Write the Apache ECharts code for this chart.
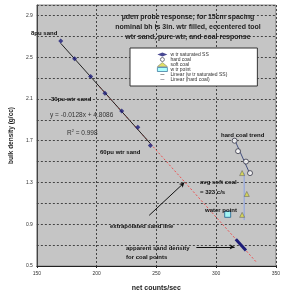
<!DOCTYPE html>
<html><head><meta charset="utf-8">
<script src="https://cdn.jsdelivr.net/npm/echarts@6/dist/echarts.min.js"></script>
<style>html,body{margin:0;padding:0;background:#fff}#c{width:283px;height:297px}</style>
</head><body><div id="c"></div>
<script>
// ---- data ----
const sandPoints = [[170, 2.655], [181.6, 2.485], [195, 2.315], [207, 2.155], [221, 1.985], [234.5, 1.83], [245, 1.655]];
const hardCoal = [[315.5, 1.70], [318.4, 1.60], [325, 1.50], [328.4, 1.39]];
const softCoal = [[321.8, 1.39], [325.7, 1.19], [321.8, 0.99]];
const waterPoint = [[309.7, 0.995]];
const sandTrend = [[170, 2.633], [245, 1.673]];
const hardCoalTrend = [[315.5, 1.71], [328.4, 1.38]];
const extrapolated = [[200.5, 2.242], [333.4, 0.541]];
const apparentSand = [[316.5, 0.757], [325, 0.648]];
const avgSoftCoal = [[323.5, 1.39], [323.5, 0.94]];
const arrowExtrap = [[244, 0.985], [273.5, 1.30]];
const arrowApparent = [[283.5, 0.683], [315.5, 0.683]];
const xTicks = {min: 150, max: 350, step: 50};
const yTicks = {min: 0.5, max: 3.0, step: 0.2, labelStep: 0.4};

const chart = echarts.init(document.getElementById('c'), null, {renderer: 'canvas'});
const F = 'Liberation Sans, Arial, sans-serif';
const navy = '#1c1c78';
const lbl = (x, y, text, opt) => Object.assign({type: 'text', left: x, top: y, z: 100,
  style: Object.assign({text, font: 'bold 6px ' + F, fill: '#111'}, opt || {})});
const lineIcon = 'path://M0,0L10,0L10,0.05Z M0,4.5L10,4.5L10,5.5L0,5.5Z M0,10L10,10L10,9.95Z';
const arrow = (pts) => ({type: 'line', data: [], silent: true, z: 6,
  markLine: {silent: true, symbol: ['none', 'arrow'], symbolSize: [4, 5], label: {show: false},
    lineStyle: {color: '#111', width: 1, type: 'solid'}, itemStyle: {color: '#111'},
    data: [[{coord: pts[0]}, {coord: pts[1]}]]}});

chart.setOption({
  animation: false,
  backgroundColor: '#fff',
  grid: {left: 23, right: 7, top: 5, bottom: 25, show: true, backgroundColor: '#c5c5c5', borderColor: '#888', borderWidth: 1},
  xAxis: {type: 'value', min: xTicks.min, max: xTicks.max, interval: xTicks.step,
    name: 'net counts/sec', nameLocation: 'middle', nameGap: 19,
    nameTextStyle: {fontFamily: F, fontSize: 7, fontWeight: 'bold', color: '#222'},
    axisLine: {show: true, lineStyle: {color: '#222', width: 1}},
    axisTick: {show: true, length: 2, lineStyle: {color: '#222'}},
    axisLabel: {fontFamily: F, fontSize: 5, color: '#333', margin: 5},
    splitLine: {show: true, lineStyle: {color: '#444', type: [2, 2], width: 1}}},
  yAxis: {type: 'value', min: yTicks.min, max: yTicks.max, interval: yTicks.step,
    name: 'bulk density (g/cc)', nameLocation: 'middle', nameGap: 19,
    nameTextStyle: {fontFamily: F, fontSize: 6.5, fontWeight: 'bold', color: '#222'},
    axisLine: {show: true, lineStyle: {color: '#444', width: 1}},
    axisTick: {show: false},
    axisLabel: {fontFamily: F, fontSize: 5, color: '#333', margin: 4,
      formatter: v => {const k = (v - yTicks.min) / yTicks.labelStep; return (Math.abs(k - Math.round(k)) < 1e-6 && v < 2.95) ? v.toFixed(1) : '';}},
    splitLine: {show: true, lineStyle: {color: '#444', type: [2, 2], width: 1}}},
  legend: {orient: 'vertical', left: 130, top: 48, padding: [4, 30, 4, 27], itemGap: 0,
    itemWidth: 10, itemHeight: 4, backgroundColor: '#fff', borderColor: '#333', borderWidth: 1,
    textStyle: {fontFamily: F, fontSize: 5, color: '#333', lineHeight: 5, padding: [0, 0, 0, -2]},
    data: [
      {name: 'w tr saturated SS', icon: 'diamond', itemStyle: {color: navy, borderWidth: 0}},
      {name: 'hard coal', icon: 'circle', itemStyle: {color: '#fff', borderColor: '#334', borderWidth: 0.8}},
      {name: 'soft coal', icon: 'triangle', itemStyle: {color: '#d8d840', borderColor: '#555', borderWidth: 0.5}},
      {name: 'w tr point', icon: 'rect', itemStyle: {color: '#9ff', borderColor: '#1c5c8c', borderWidth: 0.8}},
      {name: 'Linear (w tr saturated SS)', icon: lineIcon, itemStyle: {color: '#333', borderWidth: 0}},
      {name: 'Linear (hard coal)', icon: lineIcon, itemStyle: {color: '#556', borderWidth: 0}}
    ]},
  series: [
    {name: 'Linear (w tr saturated SS)', type: 'line', data: sandTrend, symbol: 'none', lineStyle: {color: '#222', width: 1}, z: 3},
    {name: 'extrap', type: 'line', data: extrapolated, symbol: 'none', lineStyle: {color: '#ee5050', width: 1, type: [2, 2]}, z: 2},
    {name: 'apparent', type: 'line', data: apparentSand, symbol: 'none', lineStyle: {color: navy, width: 3}, z: 3},
    {name: 'avg soft', type: 'line', data: avgSoftCoal, symbol: 'none', lineStyle: {color: '#8aa2e6', width: 1}, z: 3},
    {name: 'Linear (hard coal)', type: 'line', data: hardCoalTrend, symbol: 'none', lineStyle: {color: '#445080', width: 1}, z: 3},
    {name: 'w tr saturated SS', type: 'scatter', data: sandPoints, symbol: 'diamond', symbolSize: 5, itemStyle: {color: navy}, z: 5},
    {name: 'hard coal', type: 'scatter', data: hardCoal, symbol: 'circle', symbolSize: 5, itemStyle: {color: '#fff', borderColor: '#334', borderWidth: 1}, z: 5},
    {name: 'soft coal', type: 'scatter', data: softCoal, symbol: 'triangle', symbolSize: 5, itemStyle: {color: '#d8d840', borderColor: '#555', borderWidth: 0.6}, z: 5},
    {name: 'w tr point', type: 'scatter', data: waterPoint, symbol: 'rect', symbolSize: 6, itemStyle: {color: '#9ff', borderColor: '#1c5c8c', borderWidth: 1}, z: 5},
    arrow(arrowExtrap),
    arrow(arrowApparent)
  ],
  graphic: [
    {type: 'text', x: 188, y: 12, z: 100, style: {text: 'µden probe response, for 15cm spacing\nnominal bh is 3in. wtr filled, eccentered tool\nwtr sand, pure wtr, and coal response',
      font: 'bold 7px ' + F, fill: '#222', align: 'center', lineHeight: 10}},
    lbl(31, 30, '8pu sand'),
    lbl(51, 96, '30pu wtr sand'),
    {type: 'text', left: 50, top: 112, z: 100, style: {text: 'y = -0.0128x + 4.8086', font: '6.5px ' + F, fill: '#333'}},
    {type: 'text', left: 67, top: 129, z: 100, style: {rich: {a: {font: '6.5px ' + F, fill: '#333'}, s: {font: '4px ' + F, fill: '#333', verticalAlign: 'top', padding: [0,0,4,0]}}, text: '{a|R}{s|2}{a| = 0.998}'}},
    lbl(100, 149, '60pu wtr sand'),
    lbl(221, 132, 'hard coal trend'),
    lbl(200, 177, 'avg soft coal\n= 323 c/s', {lineHeight: 10}),
    lbl(205, 207, 'water point'),
    lbl(110, 223, 'extrapolated sand line'),
    lbl(126, 244, 'apparent sand density\nfor coal points', {lineHeight: 9})
  ]
});
</script></body></html>
